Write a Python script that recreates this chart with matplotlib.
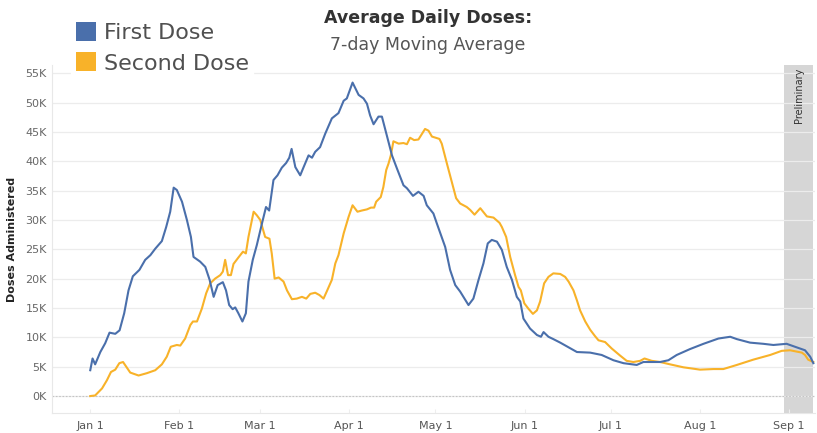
import matplotlib
matplotlib.use("Agg")
import matplotlib.pyplot as plt
from matplotlib.patches import Patch
from matplotlib.ticker import FuncFormatter

# days since Jan 1, 7-day average doses in thousands
first_days = [0, 0.8, 1.7, 3.5, 5.2, 6.7, 8.7, 10.2, 11.8, 13.3, 14.8, 17.1, 19.1, 20.9, 22.6,
              24.9, 26.4, 27.8, 29.0, 30.1, 31.9, 33.6, 35.0, 35.9, 38.2, 40.0, 41.5, 42.9, 44.3,
              46.1, 47.2, 48.3, 49.5, 50.4, 51.5, 52.9, 54.1, 55.0, 56.5, 57.9, 59.7, 61.1, 62.2,
              63.7, 65.1, 66.6, 68.1, 69.2, 70.0, 71.3, 73.0, 74.1, 75.9, 77.1, 78.2, 79.9, 81.7,
              84.0, 86.3, 88.1, 89.2, 91.2, 93.3, 95.0, 96.2, 97.3, 98.5, 100.2, 101.4, 103.1,
              104.9, 106.6, 108.9, 110.1, 112.2, 114.1, 115.9, 117.0, 119.3, 120.5, 123.4, 125.1,
              126.9, 128.6, 131.5, 133.2, 135.0, 136.7, 138.2, 139.6, 141.4, 143.1, 144.8, 146.6,
              148.3, 149.5, 150.6, 152.9, 155.3, 156.7, 157.6, 159.3, 161.0, 163.4, 169.2, 173.8,
              177.8, 181.9, 185.4, 190.0, 192.3, 198.1, 201.0, 203.9, 208.5, 213.2, 218.4, 222.5,
              224.8, 229.4, 234.0, 237.5, 242.1, 245.0, 248.5, 250.3, 251.4]
first_vals = [4.4, 6.4, 5.4, 7.5, 9.0, 10.8, 10.6, 11.2, 14.1, 18.0, 20.4, 21.5, 23.2, 24.0, 25.1,
              26.4, 28.8, 31.4, 35.5, 35.1, 33.1, 30.0, 27.1, 23.7, 22.9, 22.0, 19.8, 16.9, 18.9,
              19.4, 18.0, 15.5, 14.8, 15.1, 14.1, 12.7, 14.1, 19.5, 23.2, 25.7, 29.4, 32.2, 31.6,
              36.8, 37.6, 38.9, 39.7, 40.6, 42.1, 39.0, 37.6, 38.9, 41.0, 40.6, 41.6, 42.4, 44.7,
              47.3, 48.2, 50.3, 50.7, 53.4, 51.3, 50.7, 49.8, 47.8, 46.3, 47.6, 47.6, 44.4,
              41.0, 38.8, 35.9, 35.4, 34.1, 34.8, 34.1, 32.5, 31.1, 29.4, 25.4, 21.5,
              18.9, 17.8, 15.5, 16.6, 19.8, 22.6, 26.0, 26.6, 26.3, 24.9, 22.0, 19.8,
              16.9, 16.1, 13.2, 11.5, 10.4, 10.1, 10.9, 10.1, 9.7, 9.1, 7.5, 7.4,
              7.0, 6.1, 5.6, 5.3, 5.8, 5.8, 6.1, 7.0, 8.0, 8.9, 9.8, 10.1,
              9.7, 9.1, 8.9, 8.7, 8.9, 8.4, 7.8, 6.7, 5.6]

second_days = [0, 1.7, 4.1, 5.8, 7.2, 8.7, 10.1, 11.4, 12.5, 13.9, 16.8, 19.7, 22.6, 24.9, 26.6,
               28.0, 30.1, 31.3, 33.0, 34.8, 35.7, 37.1, 38.8, 40.3, 41.7, 43.4, 45.2, 46.1, 46.9,
               47.9, 48.9, 49.8, 51.5, 53.1, 54.1, 55.0, 56.8, 57.9, 59.1, 60.8, 62.3, 63.1, 64.1,
               65.5, 67.2, 68.4, 70.1, 71.8, 73.6, 75.1, 76.5, 78.2, 79.7, 81.1, 82.3, 84.0, 85.2,
               86.3, 88.1, 89.8, 91.2, 92.9, 94.4, 96.2, 97.6, 98.7, 99.4, 101.0, 101.9, 102.9,
               103.7, 104.5, 105.4, 107.2, 108.9, 110.1, 111.2, 112.6, 114.1, 116.4, 117.6, 118.8,
               121.4, 122.2, 124.0, 125.7, 127.2, 128.6, 130.9, 132.1, 133.6, 135.6, 137.9, 140.2,
               142.3, 143.1, 144.6, 146.0, 147.7, 148.9, 149.7, 150.9, 152.3, 153.9, 155.3, 156.4,
               157.8, 159.3, 161.0, 163.4, 165.1, 166.3, 168.0, 169.2, 170.3, 172.1, 173.8, 175.5,
               176.7, 179.0, 181.3, 184.2, 186.5, 188.8, 191.2, 192.7, 195.2, 198.1, 201.6, 206.2,
               212.0, 216.7, 220.1, 224.8, 230.5, 236.4, 240.4, 243.3, 247.4, 248.5, 249.6, 251.4]
second_vals = [0.0, 0.1, 1.3, 2.7, 4.1, 4.5, 5.6, 5.8, 5.0, 4.0, 3.5, 3.9, 4.4, 5.4, 6.7,
               8.4, 8.7, 8.6, 9.8, 12.1, 12.7, 12.7, 14.9, 17.5, 19.2, 20.0, 20.6, 21.2, 23.2,
               20.6, 20.6, 22.5, 23.6, 24.6, 24.3, 27.1, 31.4, 30.8, 30.0, 27.1, 26.8, 24.3, 20.0,
               20.2, 19.5, 18.0, 16.5, 16.6, 16.9, 16.6, 17.4, 17.6, 17.2, 16.6, 17.9, 19.8, 22.6,
               24.0, 27.7, 30.5, 32.5, 31.4, 31.6, 31.8, 32.1, 32.1, 33.1, 33.9, 35.6, 38.5,
               39.6, 41.0, 43.4, 43.0, 43.1, 42.9, 44.0, 43.6, 43.7, 45.5, 45.2, 44.2,
               43.8, 43.0, 39.6, 36.5, 33.7, 32.8, 32.2, 31.7, 30.9, 32.0, 30.6, 30.4,
               29.5, 28.8, 27.1, 23.7, 20.6, 18.6, 18.0, 15.8, 14.9, 14.0, 14.6, 16.1,
               19.2, 20.3, 20.9, 20.8, 20.3, 19.5, 18.0, 16.3, 14.6, 12.7, 11.3, 10.2,
               9.5, 9.2, 8.1, 6.9, 6.0, 5.8, 6.0, 6.4, 6.0, 5.8, 5.4, 4.9,
               4.5, 4.6, 4.6, 5.3, 6.2, 7.0, 7.7, 7.8, 7.4, 7.0, 6.2, 5.8]

month_days = [0, 31, 59, 90, 120, 151, 181, 212, 243]
month_labels = ["Jan 1", "Feb 1", "Mar 1", "Apr 1", "May 1", "Jun 1", "Jul 1", "Aug 1", "Sep 1"]
prelim_start, prelim_end = 241.2, 251.3

blue = "#4a6fab"
orange = "#f8b229"

fig = plt.figure(figsize=(8.17, 4.33), dpi=100)
ax = fig.add_axes([0.064, 0.046, 0.934, 0.804])

ax.axvspan(prelim_start, prelim_end, color="#d6d6d6", lw=0, zorder=0.2)
ax.axhline(0, color="#c4c4c4", lw=0.8, ls=(0, (1.5, 1.5)), zorder=0.6)
ax.plot(first_days, [v * 1000 for v in first_vals], color=blue, lw=1.5, zorder=3)
ax.plot(second_days, [v * 1000 for v in second_vals], color=orange, lw=1.5, zorder=2)

ax.text((prelim_start + prelim_end) / 2, 56000, "Preliminary", rotation=90, ha="center", va="top",
        fontsize=7, color="#333333", zorder=4)

ax.set_xlim(-13.2, 252.1)
ax.set_ylim(-2900, 56400)
ax.set_xticks(month_days)
ax.set_xticklabels(month_labels)
ax.set_yticks(range(0, 55001, 5000))
ax.yaxis.set_major_formatter(FuncFormatter(lambda v, p: "%dK" % (v / 1000)))
ax.set_axisbelow(True)
ax.grid(axis="y", color="#ececec", lw=0.9)
ax.tick_params(axis="y", length=0, pad=4, labelsize=8, labelcolor="#666666")
ax.tick_params(axis="x", length=3, direction="in", color="#eeeeee", pad=6, labelsize=8,
               labelcolor="#555555")
for s in ["top", "right"]:
    ax.spines[s].set_visible(False)
for s in ["left", "bottom"]:
    ax.spines[s].set_color("#e8e8e8")
    ax.spines[s].set_linewidth(0.8)

ax.set_ylabel("Doses Administered", fontsize=8, fontweight="bold", color="#222222")
ax.yaxis.set_label_coords(-0.046, 0.5)

fig.text(0.524, 0.958, "Average Daily Doses:", ha="center", va="center", fontsize=12.5,
         fontweight="semibold", color="#333333")
fig.text(0.524, 0.896, "7-day Moving Average", ha="center", va="center", fontsize=12.5,
         color="#555555")

handles = [Patch(facecolor=blue, edgecolor="none"), Patch(facecolor=orange, edgecolor="none")]
leg = fig.legend(handles, ["First Dose", "Second Dose"], loc="upper left",
                 bbox_to_anchor=(0.0875, 0.96), fontsize=16, frameon=True, facecolor="white",
                 edgecolor="white", framealpha=1, handlelength=0.9, handleheight=0.95,
                 handletextpad=0.35, labelspacing=0.42, borderpad=0.2, borderaxespad=0)
for t in leg.get_texts():
    t.set_color("#505050")

fig.savefig("out.png", dpi=100)
